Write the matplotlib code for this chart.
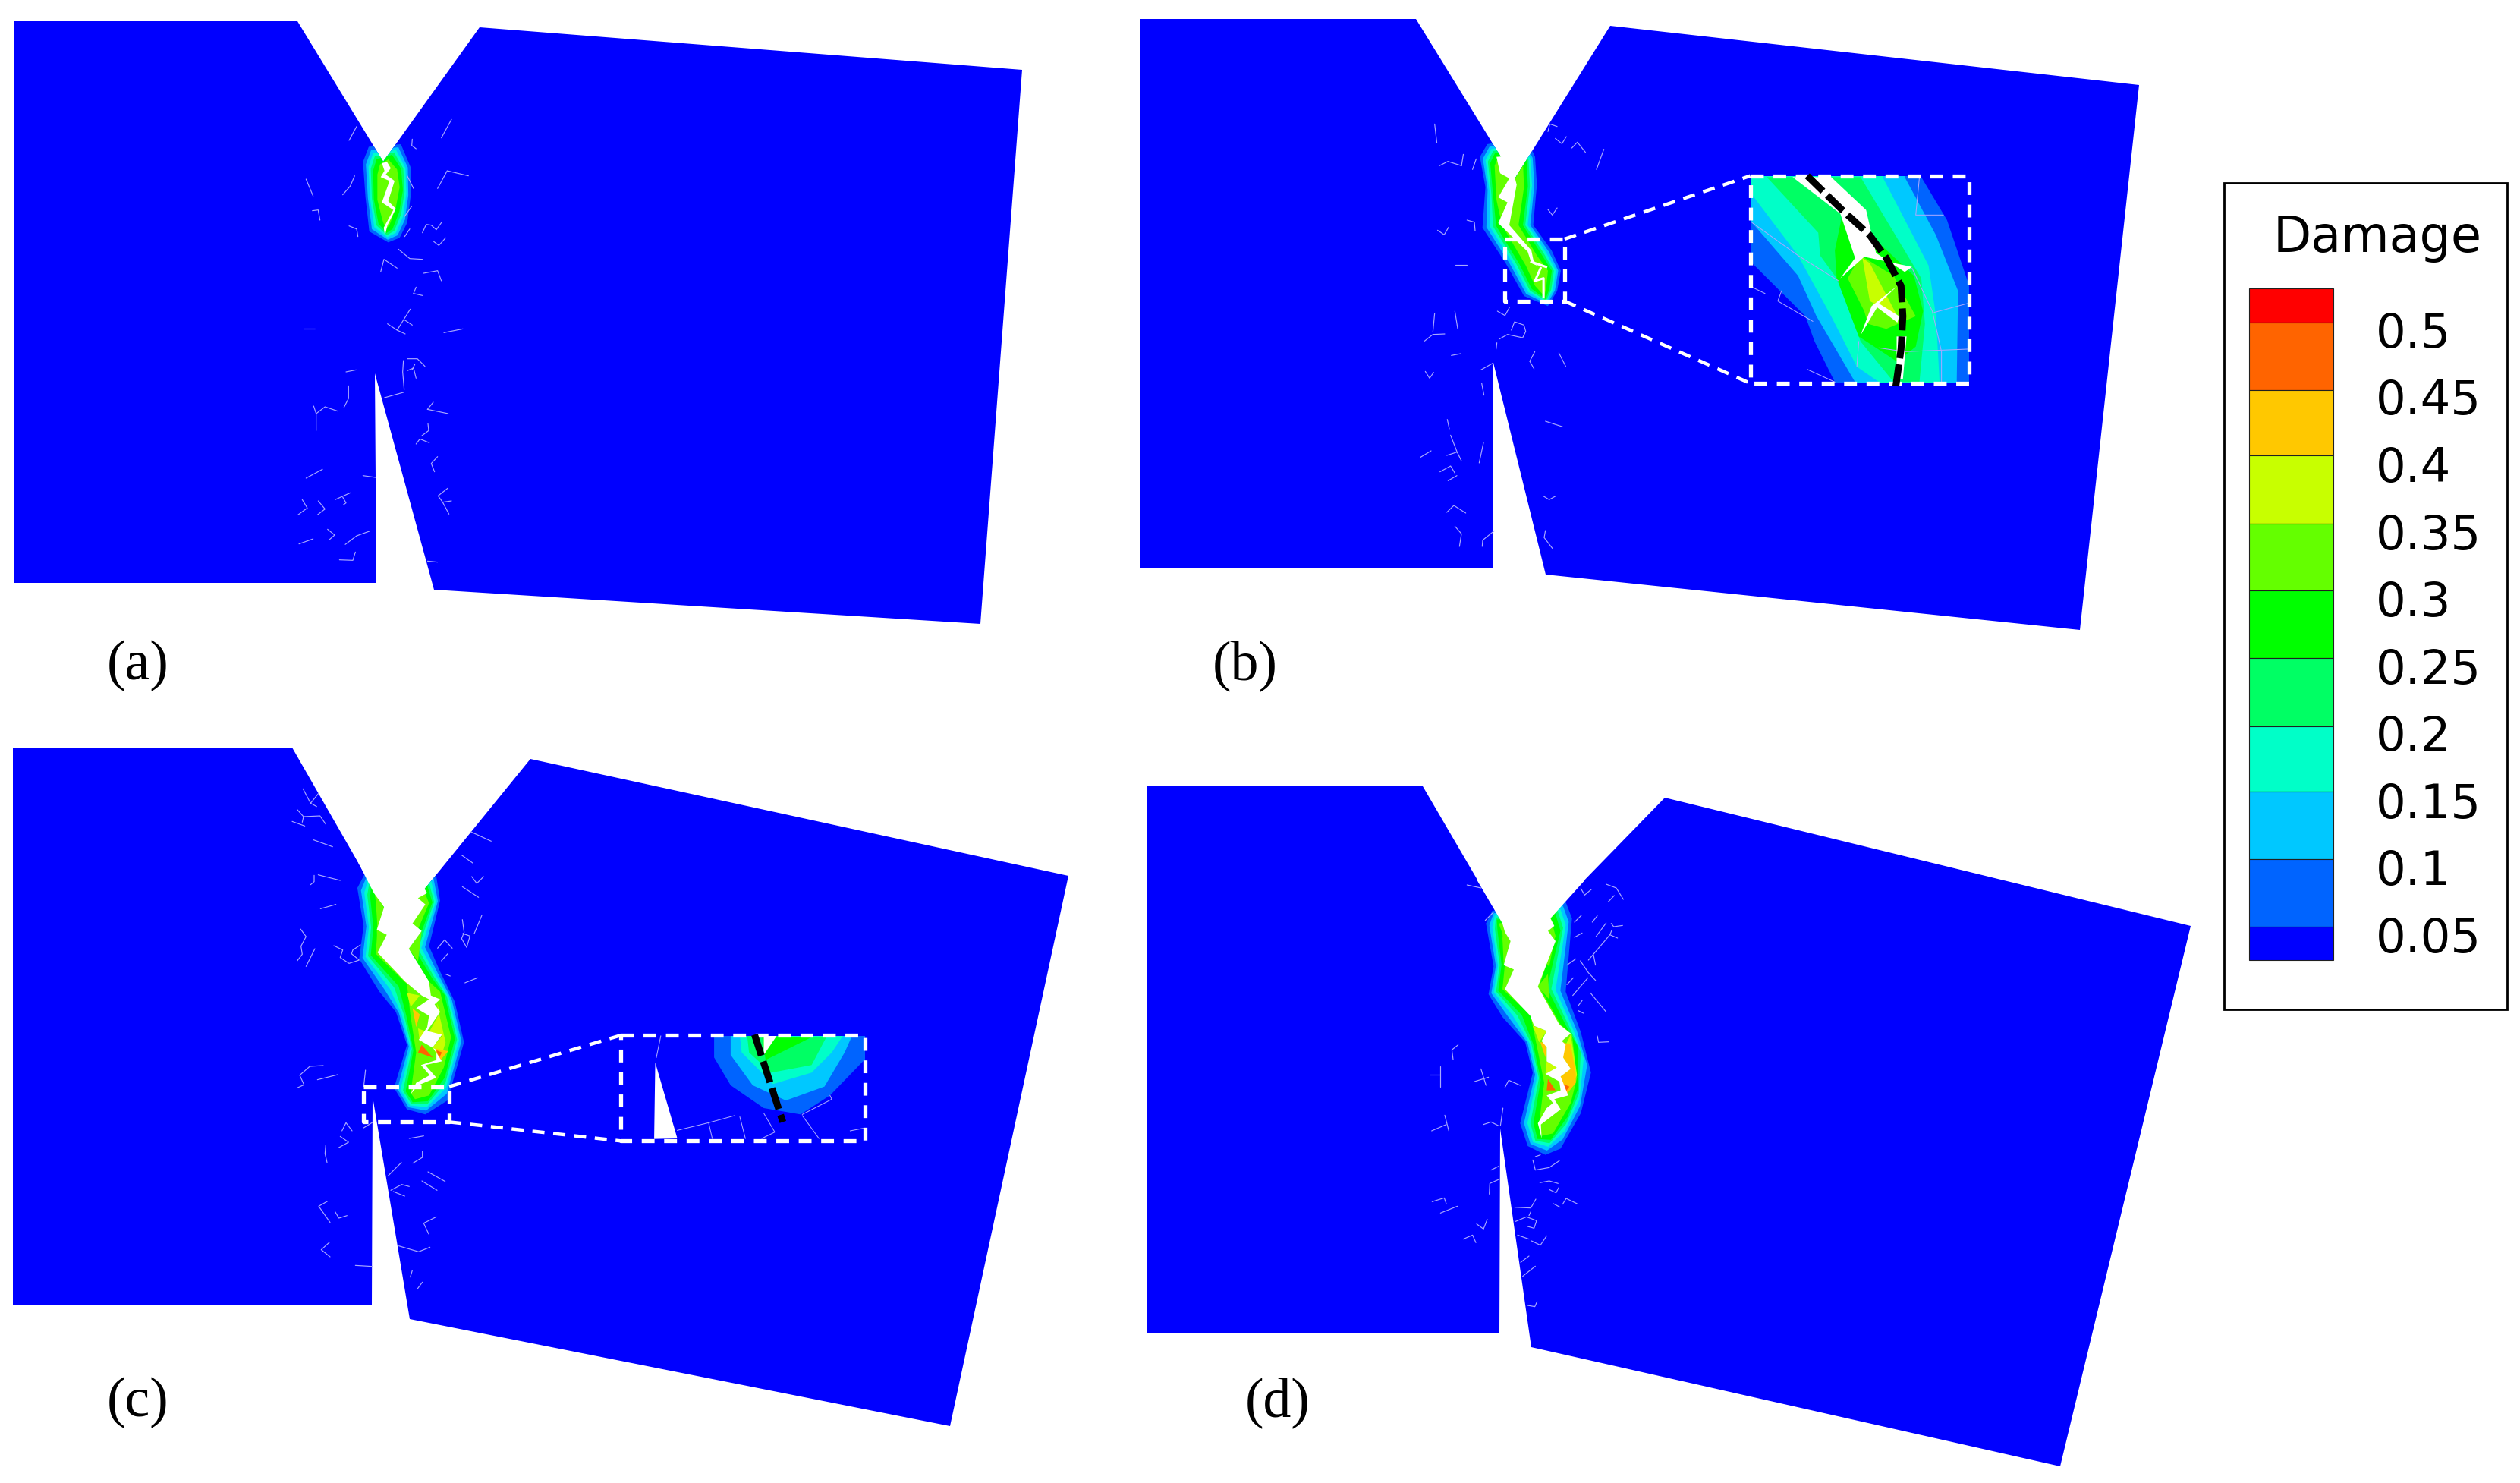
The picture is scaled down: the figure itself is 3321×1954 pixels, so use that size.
import numpy as np
import matplotlib
matplotlib.use("Agg")
import matplotlib.pyplot as plt
from matplotlib.patches import Polygon, Rectangle

W, H = 3321, 1954
BLUE = "#0000ff"
HAIR = "#a8a8ff"

# colour legend
LEVELS = ["0.5", "0.45", "0.4", "0.35", "0.3", "0.25", "0.2", "0.15", "0.1", "0.05"]
BAR_EDGES = [380, 425, 514, 600, 690, 778, 867, 957, 1043, 1132, 1221, 1265]
BAR_COLORS = ["#ff0000", "#ff6400", "#ffc800", "#c8ff00", "#64ff00", "#00ff00",
              "#00ff64", "#00ffc8", "#00c8ff", "#0064ff", "#0000ff"]
LABEL_Y = [441, 529, 618, 707, 795, 884, 972, 1061, 1149, 1238]

# nested contour bands between an outer ring and a core ring
BAND_COLORS = ["#0064ff", "#00c8ff", "#00ffc8", "#00ff64", "#00ff00", "#64ff00"]
BAND_FRACS = [0.0, 0.2, 0.38, 0.54, 0.7, 1.0]

# zoom frames: origin x, origin y, x scale, y scale
Z_A = (380, 150, 3, 3)
Z_A2 = (370, 480, 3, 3)
Z_B = (1880, 150, 2.063, 3)
Z_B2 = (1830, 400, 3, 3)
Z_C = (420, 1120, 2.063, 3)
Z_C1 = (370, 1020, 3, 3)
Z_C2 = (380, 1400, 3, 3)
Z_D = (1900, 1160, 3, 3)
Z_D2 = (1860, 1380, 3, 3)

# specimen outlines (reference pixels)
A_BODY = [(19, 28), (392, 28), (505, 213), (632, 36), (1347, 92), (1292, 822), (572, 777),
          (494, 492), (496, 768), (19, 768)]
B_BODY = [(1502, 25), (1866, 25), (1996, 236), (2122, 34), (2819, 112), (2741, 830), (2037, 757),
          (1968, 478), (1968, 749), (1502, 749)]
C_BODY = [(17, 985), (385, 985), (520, 1220), (699, 1000), (1408, 1154), (1252, 1879), (540, 1738),
          (491, 1445), (490, 1720), (17, 1720)]
D_BODY = [(1512, 1036), (1875, 1036), (2000, 1250), (2194, 1051), (2887, 1220), (2715, 1932), (2018, 1775),
          (1977, 1487), (1976, 1757), (1512, 1757)]

# contour rings
A_OUTER = [(318, 130), (295, 190), (305, 330), (320, 465), (395, 508), (440, 490), (470, 430), (483, 330), (483, 210), (445, 120)]
A_CORE = [(362, 200), (352, 240), (352, 340), (372, 420), (385, 455), (400, 440), (425, 370), (440, 290), (430, 220), (395, 180)]
B_OUTER = [(165, 120), (145, 170), (160, 290), (152, 450), (215, 590), (265, 720), (330, 760), (355, 700), (365, 620), (340, 540), (290, 440), (300, 280), (295, 170), (270, 90)]
B_CORE = [(195, 170), (185, 205), (190, 340), (205, 440), (270, 600), (295, 680), (320, 720), (325, 690), (330, 620), (300, 560), (250, 440), (265, 290), (262, 190), (240, 165)]
C_OUTER = [(125, 95), (105, 150), (122, 300), (110, 430), (165, 560), (210, 640), (240, 770), (205, 940), (240, 1025), (290, 1045), (350, 990), (395, 760), (370, 600), (330, 480), (300, 380), (330, 200), (315, 60)]
C_CORE = [(150, 150), (155, 200), (160, 310), (155, 410), (240, 530), (250, 660), (265, 800), (250, 960), (262, 985), (300, 970), (340, 860), (360, 740), (330, 560), (300, 520), (245, 400), (300, 210), (275, 120)]
D_OUTER = [(200, 120), (175, 170), (205, 340), (185, 450), (240, 540), (330, 640), (360, 760), (310, 960), (340, 1050), (410, 1085), (470, 1060), (550, 920), (590, 760), (550, 600), (490, 440), (515, 150), (490, 85)]
D_CORE = [(225, 170), (240, 210), (250, 330), (240, 430), (350, 530), (375, 650), (405, 800), (385, 960), (395, 1010), (440, 1000), (510, 880), (535, 780), (515, 610), (470, 570), (385, 420), (450, 220), (430, 145)]

# white crack shapes
A_CRACK = [(370, 195), (380, 225), (365, 250), (400, 265), (370, 350), (415, 380), (377, 450), (382, 480), (392, 440), (425, 375), (395, 345), (420, 265), (385, 240), (405, 215), (390, 190)]
B_CRACK = [(190, 170), (200, 235), (225, 255), (195, 330), (220, 350), (195, 432), (275, 545), (285, 590), (300, 600), (290, 575), (285, 540), (225, 440), (245, 280), (235, 225), (255, 190), (240, 165)]
C_CRACK = [(90, 0), (150, 170), (178, 225), (158, 315), (185, 335), (160, 405), (235, 520), (280, 575), (300, 590), (265, 625), (300, 655), (295, 700), (272, 750), (320, 790), (320, 830), (278, 850), (302, 890), (265, 920), (250, 965), (270, 930), (320, 900), (290, 850), (335, 835), (310, 780), (335, 730), (295, 715), (330, 640), (315, 610), (330, 590), (305, 575), (300, 520), (245, 390), (280, 320), (255, 290), (290, 215), (270, 190), (295, 170), (275, 125), (350, 0)]
D_CRACK = [(140, 0), (240, 170), (250, 205), (272, 240), (245, 335), (285, 352), (250, 430), (350, 535), (365, 575), (415, 595), (395, 635), (415, 660), (415, 715), (455, 740), (410, 765), (465, 795), (470, 830), (415, 850), (440, 880), (415, 900), (380, 960), (395, 1020), (392, 965), (470, 905), (445, 865), (500, 850), (470, 775), (510, 745), (480, 700), (490, 650), (475, 635), (510, 605), (465, 570), (380, 420), (450, 240), (420, 200), (445, 180), (430, 150), (565, 0)]

# high-damage patches beside the cracks: (colour, polygon)
C_HOT = [("#64ff00", [(150, 130), (178, 225), (155, 190)]), ("#64ff00", [(175, 220), (158, 315), (165, 230)]),
         ("#64ff00", [(158, 315), (185, 335), (160, 405)]), ("#64ff00", [(270, 190), (290, 215), (255, 290)]),
         ("#64ff00", [(280, 320), (245, 390), (270, 440)]),
         ("#c8ff00", [(240, 565), (275, 575), (250, 620)]), ("#ffc800", [(255, 625), (275, 650), (265, 700)]),
         ("#c8ff00", [(270, 705), (305, 725), (275, 760)]), ("#ff6400", [(280, 770), (310, 820), (270, 800)]),
         ("#c8ff00", [(320, 600), (345, 760), (330, 830), (310, 780), (335, 735), (300, 720), (330, 640)]),
         ("#ffc800", [(318, 785), (352, 795), (330, 832)]), ("#ff6400", [(318, 790), (335, 800), (328, 820)]),
         ("#64ff00", [(290, 850), (335, 835), (320, 900), (285, 890)])]
D_HOT = [("#64ff00", [(240, 225), (272, 240), (245, 335)]), ("#64ff00", [(250, 340), (285, 352), (250, 420)]),
         ("#64ff00", [(445, 240), (402, 320), (425, 340)]), ("#64ff00", [(420, 370), (380, 420), (425, 470)]),
         ("#c8ff00", [(360, 575), (415, 595), (385, 640)]), ("#ffc800", [(390, 640), (415, 640), (410, 700)]),
         ("#c8ff00", [(415, 715), (455, 740), (410, 765)]), ("#ff6400", [(420, 785), (450, 830), (415, 830)]),
         ("#c8ff00", [(510, 610), (535, 770), (490, 850), (470, 775), (510, 745), (480, 700), (490, 650)]),
         ("#ffc800", [(480, 640), (510, 650), (530, 765), (530, 800), (490, 850), (470, 775), (510, 745), (480, 700)]),
         ("#ff6400", [(480, 805), (505, 815), (490, 835)]), ("#64ff00", [(410, 850), (440, 880), (400, 920)]),
         ("#64ff00", [(445, 865), (500, 850), (470, 905)])]

# thin crack branches inside panel (b)
B_TWIGS = [[(285, 585), (325, 605)], [(310, 610), (295, 660), (318, 650), (318, 725)]]

# scattered hairline damage, one list per zoom frame
A_HAIR = [[(240, 105), (270, 50)], [(70, 258), (98, 325)], [(215, 320), (245, 285), (262, 245)], [(95, 383), (118, 380), (125, 420)],
          [(240, 443), (270, 455), (275, 485)], [(490, 100), (488, 125), (505, 138)], [(605, 95), (645, 22)], [(590, 295), (628, 225), (712, 245)],
          [(530, 470), (545, 437), (565, 440), (585, 458), (605, 430)], [(575, 505), (595, 520), (622, 490)], [(435, 535), (480, 572), (530, 575)],
          [(365, 625), (378, 575), (430, 610)], [(535, 630), (590, 620), (605, 660)], [(495, 710), (505, 685)], [(495, 710), (530, 718)],
          [(60, 850), (105, 850)], [(615, 865), (690, 850)], [(392, 830), (430, 855), (462, 870)], [(430, 855), (482, 772)], [(460, 815), (490, 835)],
          [(228, 1020), (268, 1012)], [(470, 968), (510, 968), (540, 998)], [(455, 975), (452, 1020), (458, 1090)], [(380, 1122), (458, 1100)],
          [(470, 1015), (495, 1005), (505, 1045)], [(490, 1010), (500, 990)], [(470, 245), (495, 295)], [(460, 405), (488, 365)], [(460, 485), (480, 455)]]
A2_HAIR = [[(140, 262), (140, 195), (130, 165)], [(140, 195), (175, 168), (225, 185)], [(250, 170), (268, 135), (268, 85)], [(580, 178), (603, 150)],
           [(580, 178), (662, 195)], [(535, 315), (550, 295), (587, 310)], [(558, 282), (585, 262), (582, 235)], [(100, 450), (165, 415)],
           [(325, 440), (375, 447)], [(608, 425), (595, 392), (620, 365)], [(660, 490), (622, 520), (640, 545), (675, 540)], [(640, 545), (665, 592)],
           [(215, 535), (275, 508)], [(245, 525), (258, 548), (248, 555)], [(85, 535), (105, 568), (68, 595)], [(148, 540), (175, 572), (145, 595)],
           [(185, 652), (213, 675), (190, 695)], [(72, 710), (128, 690)], [(255, 712), (300, 678), (350, 660)], [(232, 773), (285, 775), (295, 742)],
           [(580, 778), (620, 782)]]
B_HAIR = [[(22, 40), (28, 115)], [(35, 205), (58, 188), (95, 205)], [(95, 205), (100, 160)], [(125, 220), (135, 178)], [(330, 70), (335, 40), (355, 50)],
          [(350, 97), (368, 118), (380, 90)], [(395, 135), (410, 112), (432, 152)], [(462, 220), (482, 140)], [(330, 378), (342, 400), (355, 372)],
          [(110, 420), (130, 428), (132, 462)], [(30, 460), (48, 478), (60, 448)], [(78, 597), (110, 597)]]
B2_HAIR = [[(175, 112), (182, 38)], [(262, 30), (273, 98)], [(142, 148), (175, 122), (222, 120)], [(425, 180), (428, 155)],
           [(438, 140), (470, 122), (530, 135), (542, 110), (535, 85), (498, 72), (485, 105)], [(248, 205), (285, 198)], [(365, 262), (413, 235)],
           [(558, 228), (578, 190)], [(558, 228), (575, 258)], [(673, 195), (700, 248)], [(145, 268), (162, 295), (178, 272)], [(368, 315), (377, 362)],
           [(232, 458), (240, 495)], [(245, 520), (270, 585), (288, 622)], [(230, 600), (270, 587)], [(125, 608), (168, 582)], [(358, 630), (375, 550)],
           [(203, 665), (245, 642), (262, 670)], [(235, 700), (270, 680)], [(620, 465), (688, 487)], [(610, 760), (635, 775), (662, 760)],
           [(230, 825), (258, 798), (305, 828)], [(262, 880), (288, 910), (280, 960)], [(370, 960), (372, 935), (418, 898)],
           [(620, 897), (615, 925), (648, 968)], [(430, 30), (460, 47), (478, 15)]]
C1_HAIR = [[(88, 58), (118, 115), (150, 75)], [(118, 115), (142, 128)], [(65, 140), (90, 168), (85, 190)], [(90, 168), (155, 165), (178, 198)],
           [(45, 187), (95, 205)], [(130, 260), (205, 287)], [(118, 437), (132, 425), (132, 400)], [(148, 398), (235, 420)], [(157, 532), (218, 515)],
           [(78, 612), (100, 642), (80, 680), (85, 712), (65, 738)], [(100, 760), (135, 690)],
           [(210, 678), (245, 695), (235, 725), (270, 748), (310, 735), (280, 710), (285, 695), (315, 675)], [(752, 228), (832, 265)], [(715, 320), (760, 352)],
           [(755, 405), (775, 432), (802, 405)], [(718, 445), (782, 487)], [(718, 575), (725, 625), (715, 650), (735, 685), (748, 640), (720, 630)],
           [(765, 630), (795, 558)], [(620, 688), (648, 655), (678, 688)], [(635, 738), (660, 710)], [(728, 825), (778, 805)], [(650, 790), (670, 798)]]
C2_HAIR = [[(35, 100), (62, 88), (45, 50), (85, 15), (138, 12)], [(115, 68), (195, 48)], [(298, 95), (305, 30)], [(212, 270), (228, 238), (252, 270)],
           [(205, 292), (238, 315), (198, 337)], [(298, 258), (332, 237)], [(148, 325), (145, 360), (153, 395)], [(478, 300), (535, 290)],
           [(492, 398), (530, 375), (530, 350)], [(395, 447), (447, 395)], [(405, 505), (448, 482), (478, 490)], [(415, 510), (460, 528)],
           [(552, 432), (620, 470)], [(528, 468), (588, 505)], [(155, 548), (120, 568), (165, 632)], [(185, 590), (200, 615), (232, 605)],
           [(585, 610), (535, 635), (555, 678)], [(163, 710), (130, 740), (165, 768)], [(265, 802), (332, 806)], [(437, 725), (515, 748), (560, 730)],
           [(482, 848), (490, 822)], [(510, 895), (530, 868)]]
D_HAIR = [[(100, 18), (155, 30)], [(172, 158), (205, 125)], [(550, 32), (565, 58), (592, 35)], [(650, 15), (690, 30), (718, 75)], [(658, 85), (682, 60)],
          [(525, 165), (552, 138)], [(595, 165), (615, 140)], [(610, 222), (650, 168)], [(670, 170), (680, 183), (715, 178)], [(525, 225), (555, 208)],
          [(580, 315), (665, 215), (695, 228)], [(665, 215), (672, 198)], [(600, 295), (608, 335)], [(495, 335), (530, 310)], [(548, 318), (580, 365), (608, 395)],
          [(495, 412), (520, 385)], [(518, 455), (578, 385)], [(588, 445), (650, 520)], [(540, 495), (555, 475)], [(540, 515), (560, 525)],
          [(615, 615), (620, 640), (660, 638)], [(65, 650), (40, 670), (45, 708)]]
D2_HAIR = [[(72, 107), (115, 107)], [(115, 75), (115, 155)], [(132, 268), (148, 330)], [(80, 330), (138, 305)], [(275, 85), (295, 150)], [(250, 135), (305, 118)],
           [(370, 158), (385, 130), (430, 150)], [(285, 305), (315, 295), (345, 310)], [(352, 310), (362, 240)], [(490, 432), (510, 425)],
           [(480, 445), (490, 485), (545, 475), (585, 448)], [(315, 485), (345, 470)], [(308, 580), (310, 538), (350, 520)], [(508, 535), (545, 528), (580, 538)],
           [(545, 562), (572, 575), (582, 555)], [(82, 610), (130, 595), (138, 618)], [(115, 655), (182, 628)], [(598, 620), (612, 597), (655, 618)],
           [(562, 618), (588, 632)], [(408, 632), (472, 635), (492, 600)], [(412, 688), (455, 670), (495, 685), (485, 715), (460, 708)], [(465, 665), (472, 650)],
           [(258, 698), (285, 718), (300, 680)], [(205, 758), (242, 742), (255, 772)], [(420, 742), (465, 758)], [(475, 765), (510, 782), (535, 745)],
           [(432, 850), (465, 825)], [(440, 905), (490, 865)], [(460, 1020), (488, 1025), (497, 1005)]]

# magnified inset of panel (b), bands from lowest to highest, in Z_B coordinates
B_INSET_RECT = [(880, 245), (1475, 1065)]
B_BOX = [(213, 495), (375, 740)]
B_INSET_BANDS = [
    ("#0064ff", [(700, 300), (885, 590), (1030, 800), (1055, 900), (1110, 1060), (1110, 1200), (1480, 1200), (1480, 700), (1415, 420), (1345, 250), (1345, 100), (700, 100)]),
    ("#00c8ff", [(700, 100), (700, 110), (885, 430), (1010, 640), (1060, 800), (1165, 1060), (1165, 1200), (1440, 1200), (1445, 700), (1385, 480), (1300, 250), (1300, 100)]),
    ("#00ffc8", [(750, 100), (885, 320), (1010, 560), (1100, 800), (1170, 1000), (1230, 1060), (1230, 1200), (1400, 1200), (1385, 800), (1365, 600), (1240, 250), (1240, 100)]),
    ("#00ff64", [(925, 250), (1065, 470), (1070, 560), (1120, 660), (1180, 900), (1270, 1060), (1340, 1060), (1355, 830), (1345, 650), (1180, 250)]),
    ("#00ff00", [(1130, 400), (1110, 540), (1115, 650), (1175, 880), (1280, 980), (1330, 920), (1350, 780), (1325, 640), (1200, 470)]),
    ("#64ff00", [(1180, 560), (1145, 650), (1190, 780), (1200, 830), (1250, 850), (1330, 800), (1270, 640)]),
    ("#c8ff00", [(1185, 570), (1205, 740), (1280, 800), (1205, 590)]),
]
B_INSET_CRACK = [[(995, 250), (1125, 395), (1165, 570), (1125, 650), (1190, 565), (1320, 605), (1300, 625), (1222, 550), (1195, 380), (1100, 250)],
                 [(1180, 875), (1210, 760), (1280, 680), (1230, 750), (1285, 800), (1280, 825), (1225, 765)],
                 [(1278, 880), (1305, 880), (1295, 1050), (1278, 1050)]]
B_INSET_HAIR = [[(885, 430), (1010, 560), (1120, 660)], [(885, 685), (920, 710)], [(965, 700), (955, 740), (1050, 820)], [(1340, 250), (1330, 400), (1405, 400)],
                [(1320, 610), (1375, 780), (1400, 940), (1400, 1060)], [(1380, 785), (1470, 750)], [(1175, 900), (1170, 1000)], [(1230, 925), (1300, 940), (1470, 930)],
                [(1035, 1010), (1110, 1060)]]
B_PATH = [(1035, 245), (1130, 380), (1205, 480), (1250, 570), (1290, 680), (1295, 800), (1290, 930), (1275, 1085)]

# magnified inset of panel (c), in Z_C coordinates
C_INSET_RECT = [(822, 732), (1485, 1150)]
C_BOX = [(122, 935), (355, 1075)]
C_INSET_BANDS = [
    ("#0064ff", [(1075, 735), (1075, 820), (1120, 930), (1210, 1020), (1310, 1045), (1390, 970), (1490, 820), (1490, 735)]),
    ("#00c8ff", [(1120, 735), (1120, 810), (1180, 930), (1270, 990), (1375, 935), (1430, 800), (1450, 735)]),
    ("#00ffc8", [(1145, 735), (1150, 800), (1235, 925), (1340, 880), (1395, 800), (1425, 735)]),
    ("#00ff64", [(1165, 735), (1170, 800), (1230, 880), (1340, 850), (1380, 740)]),
    ("#00ff00", [(1205, 735), (1215, 830), (1340, 740)]),
]
C_INSET_TIP = [(915, 840), (975, 1140), (912, 1142)]
C_INSET_CRACK = [(1210, 735), (1245, 735), (1210, 810)]
C_INSET_HAIR = [[(975, 1108), (1060, 1078), (1130, 1050)], [(1060, 1078), (1070, 1140)], [(1145, 1055), (1160, 1140)], [(1315, 1050), (1360, 1140)],
                [(930, 735), (918, 820)], [(1205, 1140), (1240, 1115), (1210, 1040)], [(1315, 1045), (1395, 985), (1390, 970)], [(1445, 1110), (1480, 1100)]]
C_PATH = [(1185, 730), (1262, 1075)]

# panel letters: text, x, y
PANEL_LABELS = [("(a)", 182, 877), ("(b)", 1641, 877), ("(c)", 182, 1848), ("(d)", 1684, 1848)]


def zm(pts, frame):
    ox, oy, sx, sy = frame
    p = np.asarray(pts, float)
    return np.column_stack([ox + p[:, 0] / sx, oy + p[:, 1] / sy])


fig = plt.figure(figsize=(W / 100, H / 100), dpi=100, facecolor="white")
ax = fig.add_axes([0, 0, 1, 1])
ax.set_xlim(0, W)
ax.set_ylim(H, 0)
ax.axis("off")


def hairs(lines, frame, lw=0.85):
    for ln in lines:
        p = zm(ln, frame)
        ax.plot(p[:, 0], p[:, 1], color=HAIR, lw=lw, solid_capstyle="round", zorder=6)


def panel(body, outer, core, frame, crack, hot=()):
    b = Polygon(body, closed=True, fc=BLUE, ec="none", zorder=1)
    ax.add_patch(b)
    o, c = zm(outer, frame), zm(core, frame)
    for col, f in zip(BAND_COLORS, BAND_FRACS):
        g = Polygon(o + f * (c - o), closed=True, fc=col, ec="none", zorder=2)
        ax.add_patch(g)
        g.set_clip_path(b)
    for col, pts in hot:
        g = Polygon(zm(pts, frame), closed=True, fc=col, ec="none", zorder=3)
        ax.add_patch(g)
        g.set_clip_path(b)
    ax.add_patch(Polygon(zm(crack, frame), closed=True, fc="white", ec="none", zorder=7))


def dash_box(rect, frame, lw=3.8):
    (x0, y0), (x1, y1) = zm(rect, frame)
    ax.plot([x0, x1, x1, x0, x0], [y0, y0, y1, y1, y0], color="white", lw=lw,
            dashes=(3.2, 2.4), zorder=9)


panel(A_BODY, A_OUTER, A_CORE, Z_A, A_CRACK)
panel(B_BODY, B_OUTER, B_CORE, Z_B, B_CRACK)
panel(C_BODY, C_OUTER, C_CORE, Z_C, C_CRACK, C_HOT)
panel(D_BODY, D_OUTER, D_CORE, Z_D, D_CRACK, D_HOT)

hairs(A_HAIR, Z_A)
hairs(A2_HAIR, Z_A2)
hairs(B_HAIR, Z_B)
hairs(B2_HAIR, Z_B2)
hairs(C1_HAIR, Z_C1)
hairs(C2_HAIR, Z_C2)
hairs(D_HAIR, Z_D)
hairs(D2_HAIR, Z_D2)
for tw in B_TWIGS:
    p = zm(tw, Z_B)
    ax.plot(p[:, 0], p[:, 1], color="white", lw=2.2, zorder=7)


def inset(rect, bands, frame, hair):
    (x0, y0), (x1, y1) = zm(rect, frame)
    r = Rectangle((x0, y0), x1 - x0, y1 - y0, fc=BLUE, ec="none", zorder=8)
    ax.add_patch(r)
    for col, pts in bands:
        g = Polygon(zm(pts, frame), closed=True, fc=col, ec="none", zorder=8.1)
        ax.add_patch(g)
        g.set_clip_path(r)
    for ln in hair:
        p = zm(ln, frame)
        l, = ax.plot(p[:, 0], p[:, 1], color=HAIR, lw=0.75, zorder=8.2)
        l.set_clip_path(r)


def leader(box, rect, frame):
    (bx0, by0), (bx1, by1) = zm(box, frame)
    (rx0, ry0), (rx1, ry1) = zm(rect, frame)
    ax.plot([bx1, rx0], [by0, ry0], color="white", lw=3.2, dashes=(3.6, 2.6), zorder=9)
    ax.plot([bx1, rx0], [by1, ry1], color="white", lw=3.2, dashes=(3.6, 2.6), zorder=9)


def black_path(pts, frame):
    p = zm(pts, frame)
    ax.plot(p[:, 0], p[:, 1], color="black", lw=6.5, dashes=(3.2, 0.9), zorder=10)


inset(B_INSET_RECT, B_INSET_BANDS, Z_B, B_INSET_HAIR)
for cr in B_INSET_CRACK:
    ax.add_patch(Polygon(zm(cr, Z_B), closed=True, fc="white", ec="none", zorder=8.5))
dash_box(B_INSET_RECT, Z_B)
dash_box(B_BOX, Z_B)
leader(B_BOX, B_INSET_RECT, Z_B)
black_path(B_PATH, Z_B)

inset(C_INSET_RECT, C_INSET_BANDS, Z_C, C_INSET_HAIR)
ax.add_patch(Polygon(zm(C_INSET_TIP, Z_C), closed=True, fc="white", ec="none", zorder=8.5))
ax.add_patch(Polygon(zm(C_INSET_CRACK, Z_C), closed=True, fc="white", ec="none", zorder=8.5))
dash_box(C_INSET_RECT, Z_C)
dash_box(C_BOX, Z_C)
leader(C_BOX, C_INSET_RECT, Z_C)
black_path(C_PATH, Z_C)

# legend
ax.add_patch(Rectangle((2931, 241), 373, 1089, fc="white", ec="black", lw=2.0, zorder=11))
for top, bot, col in zip(BAR_EDGES[:-1], BAR_EDGES[1:], BAR_COLORS):
    ax.add_patch(Rectangle((2964, top), 111, bot - top, fc=col, ec="#202020", lw=0.8, zorder=12))
for lab, y in zip(LEVELS, LABEL_Y):
    ax.text(3131, y, lab, family="DejaVu Sans", fontsize=45, va="center", ha="left", color="black", zorder=12)
ax.text(2996, 314, "Damage", family="DejaVu Sans", fontsize=47, va="center", ha="left", color="black", zorder=12)

for lab, x, y in PANEL_LABELS:
    ax.text(x, y, lab, family="Liberation Serif", fontsize=53, va="center", ha="center", color="black", zorder=12)

fig.savefig("out.png", dpi=100, facecolor="white")
